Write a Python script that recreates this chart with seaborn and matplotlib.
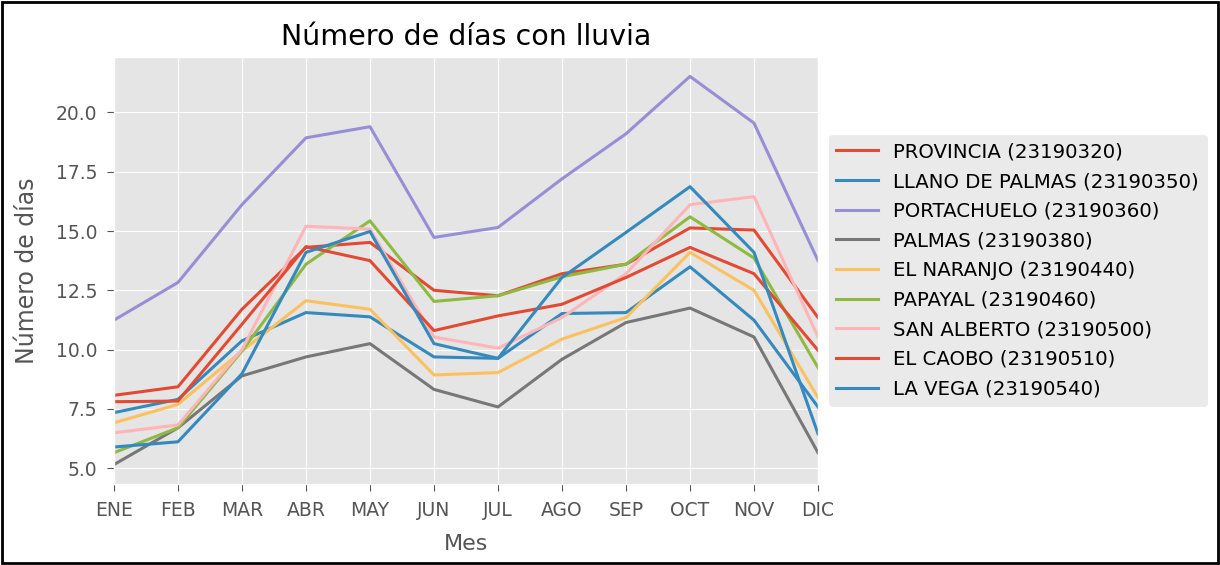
import numpy as np
import pandas as pd
import seaborn as sns
import matplotlib.pyplot as plt
import matplotlib.patches as patches

# Monthly number of rainy days per station
meses = ["ENE", "FEB", "MAR", "ABR", "MAY", "JUN", "JUL", "AGO", "SEP", "OCT", "NOV", "DIC"]

estaciones = ["PROVINCIA (23190320)", "LLANO DE PALMAS (23190350)", "PORTACHUELO (23190360)",
              "PALMAS (23190380)", "EL NARANJO (23190440)", "PAPAYAL (23190460)",
              "SAN ALBERTO (23190500)", "EL CAOBO (23190510)", "LA VEGA (23190540)"]

provincia = [8.07, 8.43, 11.7, 14.31, 14.52, 12.5, 12.27, 13.2, 13.6, 15.13, 15.04, 11.35]
llano_de_palmas = [7.34, 7.9, 10.37, 11.56, 11.38, 9.69, 9.63, 11.52, 11.56, 13.49, 11.24, 7.58]
portachuelo = [11.24, 12.83, 16.11, 18.93, 19.4, 14.73, 15.15, 17.2, 19.1, 21.52, 19.55, 13.75]
palmas = [5.15, 6.7, 8.89, 9.69, 10.25, 8.32, 7.58, 9.59, 11.14, 11.75, 10.53, 5.65]
el_naranjo = [6.91, 7.69, 9.94, 12.06, 11.7, 8.93, 9.03, 10.44, 11.35, 14.1, 12.5, 7.97]
papayal = [5.65, 6.7, 9.94, 13.6, 15.43, 12.03, 12.27, 13.07, 13.6, 15.6, 13.86, 9.24]
san_alberto = [6.49, 6.82, 10.0, 15.2, 15.08, 10.53, 10.06, 11.35, 13.2, 16.11, 16.45, 10.53]
el_caobo = [7.8, 7.83, 11.07, 14.34, 13.75, 10.8, 11.42, 11.91, 13.04, 14.31, 13.2, 9.97]
la_vega = [5.89, 6.11, 8.98, 14.1, 14.98, 10.25, 9.63, 13.04, 14.94, 16.87, 14.1, 6.45]

series = [provincia, llano_de_palmas, portachuelo, palmas, el_naranjo,
          papayal, san_alberto, el_caobo, la_vega]

colores = ["#E24A33", "#348ABD", "#988ED5", "#777777", "#FBC15E",
           "#8EBA42", "#FFB5B8", "#E24A33", "#348ABD"]

# Long-form table for seaborn
filas = []
for est, vals in zip(estaciones, series):
    for i, v in enumerate(vals):
        filas.append({"mes": i, "estacion": est, "dias": v})
df = pd.DataFrame(filas)

plt.style.use("ggplot")
plt.rcParams["font.family"] = ["DejaVu Sans"]

dpi = 100
fig = plt.figure(figsize=(1220 / dpi, 565 / dpi), dpi=dpi)
ax = fig.add_axes([0.0934, 0.1434, 0.5771, 0.7557])

sns.lineplot(data=df, x="mes", y="dias", hue="estacion", hue_order=estaciones,
             palette=dict(zip(estaciones, colores)), linewidth=2.2, ax=ax)

ax.set_xticks(range(len(meses)))
ax.set_xticklabels(meses)
ax.set_xlim(0, len(meses) - 1)
ax.set_yticks([5.0, 7.5, 10.0, 12.5, 15.0, 17.5, 20.0])
ax.tick_params(labelsize=13.5, colors="#555555", length=5)
ax.tick_params(axis="y", pad=7)
ax.tick_params(axis="x", pad=7)
ax.set_xlabel("Mes", fontsize=16, color="#555555", labelpad=10)
ax.set_ylabel("Número de días", fontsize=17, color="#555555", labelpad=12)
ax.set_title("Número de días con lluvia", fontsize=20.5, pad=9)

leg = ax.legend(loc="center left", bbox_to_anchor=(1.015, 0.5), borderaxespad=0,
                fontsize=14.2, borderpad=0.4, handlelength=2.13, handletextpad=0.76,
                labelspacing=0.54, frameon=True)
leg.get_frame().set_facecolor("#E5E5E5")
leg.get_frame().set_edgecolor("#E5E5E5")

# black frame around the picture
fig.patches.append(patches.Rectangle((0.002, 0.003), 0.996, 0.994, transform=fig.transFigure,
                                     fill=False, edgecolor="black", linewidth=2))

plt.savefig("out.png", dpi=dpi)
